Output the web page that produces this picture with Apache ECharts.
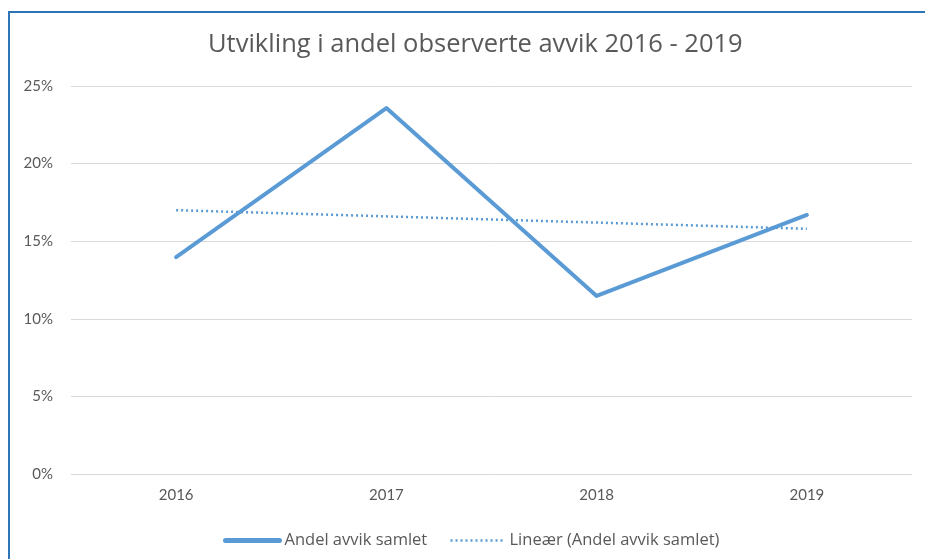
<!DOCTYPE html>
<html>
<head>
<meta charset="utf-8">
<script src="https://cdn.jsdelivr.net/npm/echarts@6/dist/echarts.min.js"></script>
<style>
html,body{margin:0;padding:0;background:#fff;}
#frame{position:absolute;left:8px;top:11px;width:930px;height:560px;border-left:2px solid #2E75B6;border-top:2px solid #2E75B6;box-sizing:border-box;}
#chart{position:absolute;left:0;top:0;width:925px;height:559px;}
</style>
</head>
<body>
<div id="frame"></div>
<div id="chart"></div>
<script>
const titleText = 'Utvikling i andel observerte avvik 2016 - 2019';
const categories = ['2016', '2017', '2018', '2019'];
const seriesName = 'Andel avvik samlet';
const seriesValues = [0.1398, 0.2358, 0.1147, 0.1669];
const trendName = 'Lineær (Andel avvik samlet)';
const trendValues = [0.1700, 0.1660, 0.1620, 0.1580];
const yTicks = [0, 0.05, 0.10, 0.15, 0.20, 0.25];

const chart = echarts.init(document.getElementById('chart'), null, {renderer: 'canvas'});
const font = 'Lato, "Open Sans", sans-serif';
chart.setOption({
  backgroundColor: 'transparent',
  animation: false,
  title: {
    text: titleText,
    left: 203,
    top: 27,
    textStyle: {color: '#595959', fontSize: 25.5, fontWeight: 'normal', fontFamily: '"Open Sans", sans-serif'}
  },
  grid: {left: 71, right: 13, top: 86, bottom: 85, containLabel: false},
  xAxis: {
    type: 'category',
    data: categories,
    boundaryGap: true,
    axisLine: {show: false},
    axisTick: {show: false},
    axisLabel: {color: '#595959', fontSize: 15, fontFamily: font, margin: 14}
  },
  yAxis: {
    type: 'value',
    min: yTicks[0],
    max: yTicks[yTicks.length - 1],
    interval: 0.05,
    axisLine: {show: false},
    axisTick: {show: false},
    splitLine: {lineStyle: {color: '#D9D9D9', width: 1}},
    axisLabel: {
      color: '#595959', fontSize: 15, fontFamily: font, margin: 18,
      formatter: v => Math.round(v * 100) + '%'
    }
  },
  legend: {
    top: 527,
    left: 218,
    itemWidth: 54,
    itemHeight: 12,
    itemGap: 22,
    itemStyle: {opacity: 0},
    textStyle: {color: '#595959', fontSize: 16.5, fontFamily: '"Open Sans", sans-serif'},
    data: [
      {name: seriesName, lineStyle: {width: 5}},
      {name: trendName, lineStyle: {width: 2.5}}
    ]
  },
  series: [
    {
      name: seriesName,
      type: 'line',
      data: seriesValues,
      symbol: 'none',
      lineStyle: {color: '#5B9BD5', width: 4, cap: 'round', join: 'round'},
      itemStyle: {color: '#5B9BD5'}
    },
    {
      name: trendName,
      type: 'line',
      data: trendValues,
      symbol: 'none',
      lineStyle: {color: '#5B9BD5', width: 2.5, type: [2, 3]},
      itemStyle: {color: '#5B9BD5'}
    }
  ]
});
</script>
</body>
</html>
